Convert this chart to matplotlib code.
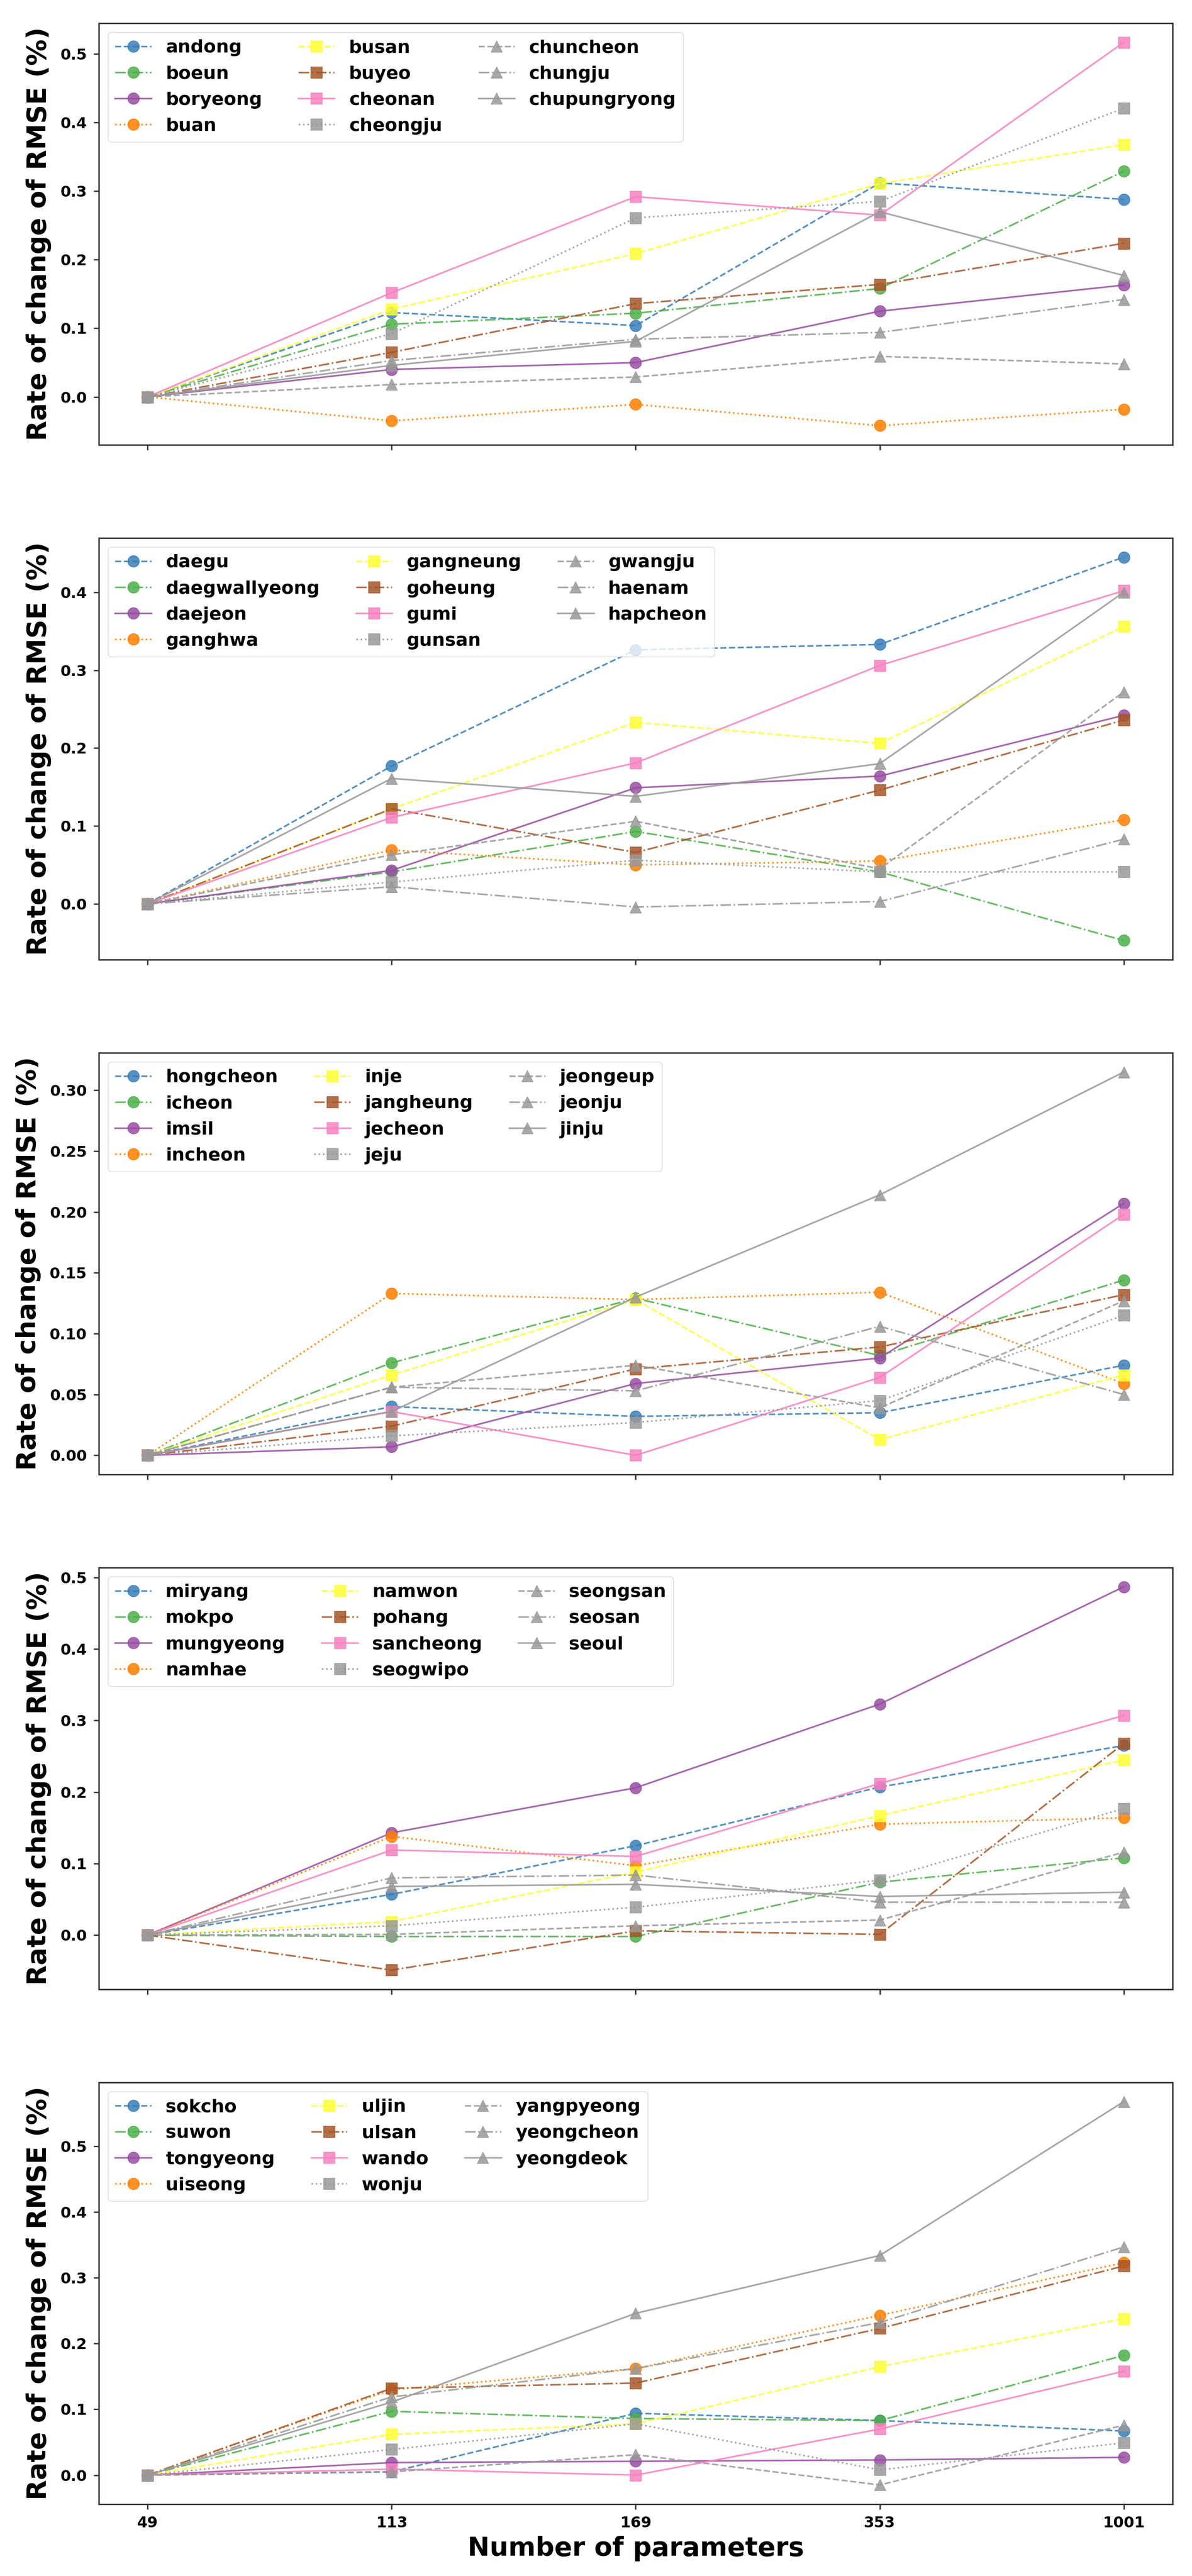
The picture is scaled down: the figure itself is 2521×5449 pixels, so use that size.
import matplotlib
matplotlib.use("Agg")
import matplotlib.pyplot as plt
from matplotlib.ticker import MultipleLocator

plt.rcParams['font.family'] = ['DejaVu Sans']
plt.rcParams['font.weight'] = 'bold'

params = ['49', '113', '169', '353', '1001']

names1 = ['andong', 'boeun', 'boryeong', 'buan', 'busan', 'buyeo', 'cheonan',
          'cheongju', 'chuncheon', 'chungju', 'chupungryong']
values1 = [
    [0, 0.123, 0.104, 0.312, 0.288],
    [0, 0.106, 0.122, 0.158, 0.329],
    [0, 0.040, 0.050, 0.125, 0.163],
    [0, -0.035, -0.011, -0.042, -0.018],
    [0, 0.128, 0.209, 0.311, 0.368],
    [0, 0.065, 0.136, 0.164, 0.224],
    [0, 0.152, 0.292, 0.265, 0.517],
    [0, 0.092, 0.261, 0.285, 0.421],
    [0, 0.018, 0.029, 0.059, 0.048],
    [0, 0.053, 0.084, 0.094, 0.142],
    [0, 0.046, 0.081, 0.270, 0.177],
]

names2 = ['daegu', 'daegwallyeong', 'daejeon', 'ganghwa', 'gangneung', 'goheung',
          'gumi', 'gunsan', 'gwangju', 'haenam', 'hapcheon']
values2 = [
    [0, 0.177, 0.326, 0.333, 0.445],
    [0, 0.041, 0.093, 0.041, -0.047],
    [0, 0.043, 0.149, 0.164, 0.242],
    [0, 0.069, 0.050, 0.055, 0.108],
    [0, 0.122, 0.233, 0.206, 0.356],
    [0, 0.122, 0.066, 0.146, 0.236],
    [0, 0.111, 0.181, 0.306, 0.402],
    [0, 0.028, 0.056, 0.041, 0.041],
    [0, 0.063, 0.106, 0.045, 0.272],
    [0, 0.022, -0.004, 0.003, 0.083],
    [0, 0.161, 0.138, 0.180, 0.400],
]

names3 = ['hongcheon', 'icheon', 'imsil', 'incheon', 'inje', 'jangheung',
          'jecheon', 'jeju', 'jeongeup', 'jeonju', 'jinju']
values3 = [
    [0, 0.040, 0.032, 0.035, 0.074],
    [0, 0.076, 0.129, 0.082, 0.144],
    [0, 0.007, 0.059, 0.080, 0.207],
    [0, 0.133, 0.128, 0.134, 0.059],
    [0, 0.066, 0.128, 0.013, 0.066],
    [0, 0.024, 0.071, 0.089, 0.132],
    [0, 0.036, 0.000, 0.064, 0.198],
    [0, 0.016, 0.027, 0.045, 0.115],
    [0, 0.056, 0.074, 0.039, 0.127],
    [0, 0.056, 0.053, 0.106, 0.050],
    [0, 0.036, 0.130, 0.214, 0.315],
]

names4 = ['miryang', 'mokpo', 'mungyeong', 'namhae', 'namwon', 'pohang',
          'sancheong', 'seogwipo', 'seongsan', 'seosan', 'seoul']
values4 = [
    [0, 0.057, 0.125, 0.207, 0.265],
    [0, -0.002, -0.002, 0.074, 0.108],
    [0, 0.143, 0.206, 0.323, 0.487],
    [0, 0.138, 0.097, 0.155, 0.164],
    [0, 0.019, 0.088, 0.167, 0.245],
    [0, -0.049, 0.006, 0.001, 0.268],
    [0, 0.119, 0.110, 0.212, 0.307],
    [0, 0.013, 0.039, 0.077, 0.177],
    [0, 0.001, 0.013, 0.021, 0.116],
    [0, 0.080, 0.084, 0.046, 0.046],
    [0, 0.068, 0.071, 0.054, 0.060],
]

names5 = ['sokcho', 'suwon', 'tongyeong', 'uiseong', 'uljin', 'ulsan',
          'wando', 'wonju', 'yangpyeong', 'yeongcheon', 'yeongdeok']
values5 = [
    [0, 0.005, 0.094, 0.083, 0.067],
    [0, 0.097, 0.086, 0.083, 0.182],
    [0, 0.019, 0.021, 0.023, 0.027],
    [0, 0.130, 0.162, 0.243, 0.323],
    [0, 0.062, 0.078, 0.165, 0.238],
    [0, 0.132, 0.140, 0.223, 0.318],
    [0, 0.009, 0.000, 0.070, 0.158],
    [0, 0.039, 0.078, 0.008, 0.049],
    [0, 0.005, 0.031, -0.015, 0.076],
    [0, 0.119, 0.162, 0.232, 0.347],
    [0, 0.111, 0.246, 0.334, 0.568],
]

colors = ['#377eb8', '#4daf4a', '#984ea3', '#ff7f00', '#ffff33', '#a65628',
          '#f781bf', '#999999', '#999999', '#999999', '#999999']
linestyles = ['--', '-.', '-', ':']
markers = ['o', 's', '^']

panels = [(names1, values1, 0.1), (names2, values2, 0.1), (names3, values3, 0.05),
          (names4, values4, 0.1), (names5, values5, 0.1)]

fig, axes = plt.subplots(5, 1, figsize=(25.21, 54.49), dpi=100)
fig.subplots_adjust(left=0.0829, right=0.9837, top=0.991, bottom=0.0279, hspace=0.2209)

for k, (ax, (names, values, step)) in enumerate(zip(axes, panels)):
    for i, (name, vals) in enumerate(zip(names, values)):
        ax.plot(params, vals, color=colors[i], linestyle=linestyles[i % 4],
                marker=markers[i // 4], markersize=17.5, linewidth=2.5,
                alpha=0.85, label=name)
    ax.yaxis.set_major_locator(MultipleLocator(step))
    ax.tick_params(axis='both', labelsize=23, length=8, width=2.2, pad=10,
                   color='0.25')
    for sp in ax.spines.values():
        sp.set_linewidth(2.2)
        sp.set_color('0.2')
    ax.set_ylabel('Rate of change of RMSE (%)', fontsize=40, fontweight='bold',
                  labelpad=13)
    ax.legend(loc='upper left', ncol=3, prop={'weight': 'bold', 'size': 27.5},
              labelspacing=0.5, borderaxespad=0.5, framealpha=0.8,
              edgecolor='0.8')
    if k < 4:
        ax.tick_params(axis='x', labelbottom=False)

axes[-1].set_xlabel('Number of parameters', fontsize=40, fontweight='bold',
                    labelpad=8)

fig.savefig('out.png', dpi=100, facecolor='white')
